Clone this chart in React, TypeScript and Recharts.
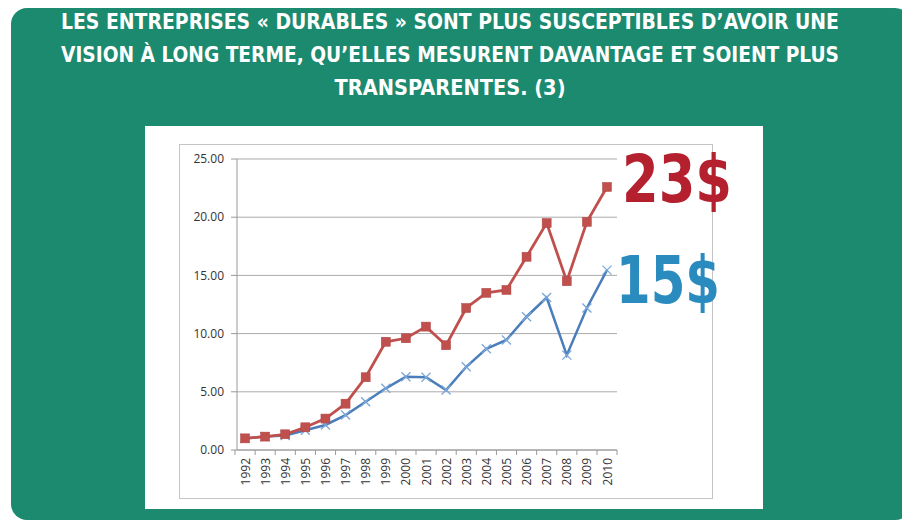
import React from "react";
import { CartesianGrid, Line, LineChart, XAxis, YAxis } from "recharts";

const years = [
  "1992", "1993", "1994", "1995", "1996", "1997", "1998", "1999", "2000", "2001",
  "2002", "2003", "2004", "2005", "2006", "2007", "2008", "2009", "2010",
];
const durables = [
  1.0, 1.15, 1.35, 1.95, 2.7, 3.98, 6.25, 9.3, 9.6, 10.6,
  9.0, 12.2, 13.5, 13.75, 16.6, 19.5, 14.5, 19.6, 22.6,
];
const autres = [
  1.0, 1.15, 1.25, 1.7, 2.15, 3.0, 4.15, 5.3, 6.3, 6.25,
  5.15, 7.15, 8.7, 9.45, 11.45, 13.1, 8.15, 12.2, 15.45,
];
const yTicks = [0, 5, 10, 15, 20, 25];
const titleLines = [
  "LES ENTREPRISES « DURABLES » SONT PLUS SUSCEPTIBLES D’AVOIR UNE",
  "VISION À LONG TERME, QU’ELLES MESURENT DAVANTAGE ET SOIENT PLUS",
  "TRANSPARENTES. (3)",
];
const endLabels = ["23$", "15$"];

const data = years.map((year, i) => ({ year, durables: durables[i], autres: autres[i] }));

const RED = "#c0504d";
const BLUE = "#4a7ebb";
const GREEN = "#1b8a6f";
const condensed = "'Liberation Sans Narrow', 'DejaVu Sans Condensed', sans-serif";
const axisFont = "'Open Sans', 'Liberation Sans', sans-serif";

function SquareDot(props: any) {
  const { cx, cy } = props;
  if (cx == null || cy == null) return null;
  return <rect x={cx - 4.5} y={cy - 4.5} width={9} height={9} fill={RED} stroke="#b04440" strokeWidth={0.5} />;
}

function CrossDot(props: any) {
  const { cx, cy } = props;
  if (cx == null || cy == null) return null;
  const s = 4.5;
  return (
    <g stroke="#7aa6d8" strokeWidth={1.3}>
      <line x1={cx - s} y1={cy - s} x2={cx + s} y2={cy + s} />
      <line x1={cx - s} y1={cy + s} x2={cx + s} y2={cy - s} />
    </g>
  );
}

// Excel-style ticks sit between categories, label centred on the category
function YearTick(props: any) {
  const { x, y, payload, index, visibleTicksCount } = props;
  const half = 10;
  return (
    <g transform={`translate(${x},${y})`}>
      <line x1={-half} y1={-8} x2={-half} y2={-3} stroke="#999" />
      {index === visibleTicksCount - 1 && <line x1={half} y1={-8} x2={half} y2={-3} stroke="#999" />}
      <text
        transform="rotate(-90)"
        textAnchor="end"
        dominantBaseline="central"
        fontSize={12}
        fill="#333"
        fontFamily={axisFont}
      >
        {payload.value}
      </text>
    </g>
  );
}

export default function App() {
  return (
    <div style={{ position: "absolute", left: 0, top: 0, width: 902, height: 524, background: "#fff", overflow: "hidden" }}>
      <div
        style={{
          position: "absolute",
          left: 11,
          top: 8,
          width: 900,
          height: 512,
          background: GREEN,
          borderRadius: 16,
        }}
      />

      <svg width={902} height={110} style={{ position: "absolute", left: 0, top: 0 }}>
        {titleLines.map((line, i) => (
          <text
            key={i}
            x={450}
            y={29 + i * 33}
            textAnchor="middle"
            fill="#fff"
            fontFamily={condensed}
            fontWeight="bold"
            fontSize={21}
            textLength={i === 2 ? 231 : 778}
            lengthAdjust="spacingAndGlyphs"
          >
            {line}
          </text>
        ))}
      </svg>

      <div style={{ position: "absolute", left: 145, top: 126, width: 618, height: 383, background: "#fff" }} />
      <div
        style={{
          position: "absolute",
          left: 179,
          top: 144,
          width: 532,
          height: 353,
          border: "1px solid #c4c4c4",
        }}
      />

      <div style={{ position: "absolute", left: 179, top: 144 }}>
        <LineChart width={533} height={354} data={data} margin={{ top: 15, right: 95, bottom: 0, left: 0 }}>
          <CartesianGrid vertical={false} stroke="#ababab" strokeWidth={1} />
          <XAxis
            dataKey="year"
            height={48}
            padding={{ left: 8, right: 10 }}
            tick={<YearTick />}
            tickLine={false}
            tickSize={5}
            tickMargin={3}
            interval={0}
            stroke="#999"
          />
          <YAxis
            width={58}
            domain={[0, 25]}
            ticks={yTicks}
            tickFormatter={(v: number) => v.toFixed(2)}
            tickSize={6}
            tickMargin={7}
            stroke="#999"
            tick={{ fontSize: 12, fill: "#333", fontFamily: axisFont }}
          />
          <Line
            dataKey="autres"
            stroke={BLUE}
            strokeWidth={2.5}
            dot={<CrossDot />}
            activeDot={false}
            isAnimationActive={false}
          />
          <Line
            dataKey="durables"
            stroke={RED}
            strokeWidth={2.8}
            dot={<SquareDot />}
            activeDot={false}
            isAnimationActive={false}
          />
        </LineChart>
      </div>

      <svg width={902} height={524} style={{ position: "absolute", left: 0, top: 0, pointerEvents: "none" }}>
        <text
          x={622}
          y={202}
          fill="#b5202f"
          fontFamily={condensed}
          fontWeight="bold"
          fontSize={66}
          textLength={110}
          lengthAdjust="spacingAndGlyphs"
        >
          {endLabels[0]}
        </text>
        <text
          x={616}
          y={303}
          fill="#2a8bbe"
          fontFamily={condensed}
          fontWeight="bold"
          fontSize={66}
          textLength={104}
          lengthAdjust="spacingAndGlyphs"
        >
          {endLabels[1]}
        </text>
      </svg>
    </div>
  );
}
